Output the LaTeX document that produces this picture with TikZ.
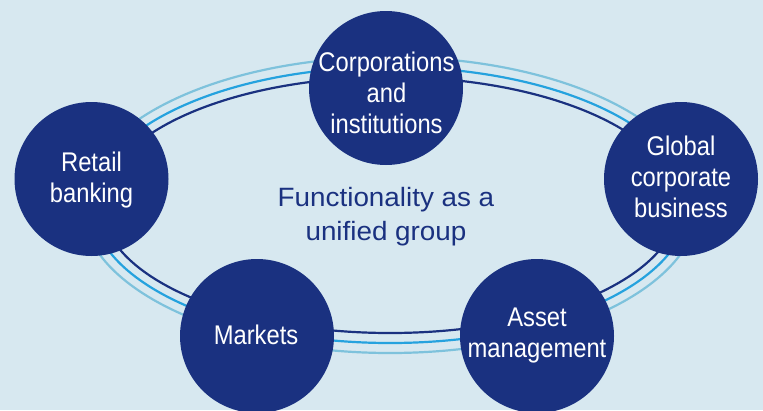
\documentclass[tikz,border=0pt]{standalone}
\usepackage{fontspec}
\setmainfont{Liberation Sans}
\newfontfamily\condfont{Liberation Sans}[FakeStretch=0.88]
\newfontfamily\widefont{Liberation Sans}[FakeStretch=1.05]
\definecolor{bgblue}{HTML}{D7E8F0}
\definecolor{navy}{HTML}{1A3180}
\definecolor{midblue}{HTML}{25A2DE}
\definecolor{lightblue}{HTML}{7EC2DC}
\tikzset{
  bubble/.style={circle, fill=navy, draw=none, minimum size=154pt, inner sep=0pt},
  btext/.style={text=white, align=center, inner sep=0pt, font=\condfont\fontsize{27}{31}\selectfont},
  ctext/.style={text=navy, align=center, inner sep=0pt, font=\widefont\fontsize{26.5}{33}\selectfont},
  ring/.style={line width=2.2pt}
}
\begin{document}
\begin{tikzpicture}[x=1pt,y=-1pt]
\fill[bgblue] (0,0) rectangle (763,410);
\useasboundingbox (0,0) rectangle (763,410);
% rings
\coordinate (rc) at (390,205);
\draw[ring, lightblue] (rc) ellipse [x radius=308pt, y radius=148pt];
\draw[ring, midblue] (rc) ellipse [x radius=298pt, y radius=138pt];
\draw[ring, navy] (rc) ellipse [x radius=288pt, y radius=128pt];
% circles
\node[bubble] (corp) at (386,88) {};
\node[bubble] (retail) at (91.5,179) {};
\node[bubble] (global) at (681,179) {};
\node[bubble] (markets) at (257,336) {};
\node[bubble] (asset) at (537,336) {};
% texts
\node[btext, anchor=base] (corpt) at (386.5,71.7) {Corporations};
\node[btext, anchor=base] (corpt2) at (386.5,102.7) {and};
\node[btext, anchor=base] (corpt3) at (386.5,133.3) {institutions};
\node[btext, anchor=base] (retailt) at (91.5,171.7) {Retail};
\node[btext, anchor=base] (retailt2) at (91.5,202.7) {banking};
\node[btext, anchor=base] (globalt) at (681,155.5) {Global};
\node[btext, anchor=base] (globalt2) at (681,186.5) {corporate};
\node[btext, anchor=base] (globalt3) at (681,217.5) {business};
\node[btext, anchor=base] (marketst) at (256,344.3) {Markets};
\node[btext, anchor=base] (assett) at (537,326.7) {Asset};
\node[btext, anchor=base] (assett2) at (537,357.7) {management};
\node[ctext, anchor=base] (center1) at (386,206.7) {Functionality as a};
\node[ctext, anchor=base] (center2) at (386,240) {unified group};
\end{tikzpicture}
\end{document}
